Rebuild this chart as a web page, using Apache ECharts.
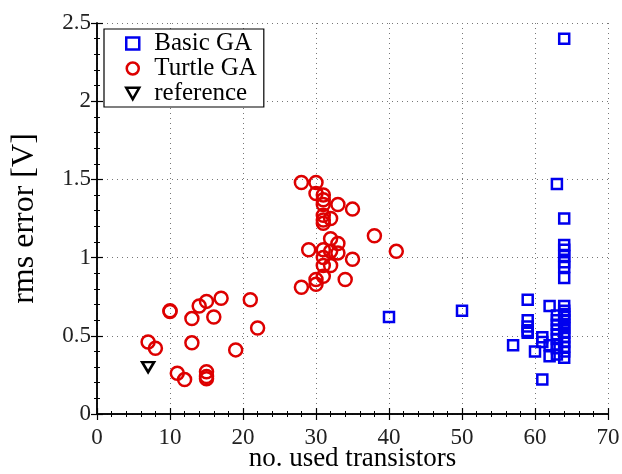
<!DOCTYPE html>
<html>
<head>
<meta charset="utf-8">
<script src="https://cdn.jsdelivr.net/npm/echarts@6/dist/echarts.min.js"></script>
<style>
  html, body { margin: 0; padding: 0; background: #fff; }
  #chart { width: 622px; height: 474px; }
</style>
</head>
<body>
<div id="chart"></div>
<script>
// Basic GA runs: [used transistors, rms error]
const basicGA = [
  [40, 0.62], [50, 0.66], [57, 0.44], [59, 0.73], [59, 0.60], [59, 0.56],
  [59, 0.53], [59, 0.52], [60, 0.40], [61, 0.49], [61, 0.46], [61, 0.22],
  [62, 0.69], [62, 0.37], [62, 0.44], [63, 1.47], [63, 0.63], [63, 0.60],
  [63, 0.57], [63, 0.54], [63, 0.51], [63, 0.48], [63, 0.44], [63, 0.42],
  [63, 0.38], [64, 2.40], [64, 1.25], [64, 1.08], [64, 1.05], [64, 1.01],
  [64, 0.97], [64, 0.94], [64, 0.87], [64, 0.69], [64, 0.66], [64, 0.64],
  [64, 0.62], [64, 0.60], [64, 0.57], [64, 0.55], [64, 0.52], [64, 0.49],
  [64, 0.46], [64, 0.43], [64, 0.40], [64, 0.36]
];
// Turtle GA runs
const turtleGA = [
  [28, 1.48], [30, 1.48], [30, 1.41], [31, 1.40], [31, 1.37], [31, 1.34],
  [33, 1.34], [35, 1.31], [31, 1.27], [32, 1.25], [31, 1.24], [31, 1.22],
  [38, 1.14], [32, 1.12], [33, 1.09], [29, 1.05], [41, 1.04], [31, 1.05],
  [32, 1.04], [33, 1.03], [35, 0.99], [31, 1.00], [31, 0.95], [32, 0.95],
  [31, 0.88], [34, 0.86], [30, 0.86], [30, 0.83], [28, 0.81],
  [17, 0.74], [21, 0.73], [15, 0.72], [14, 0.69], [10, 0.66], [10, 0.655],
  [13, 0.61], [16, 0.62], [22, 0.55], [7, 0.46], [8, 0.42], [13, 0.455],
  [19, 0.41], [11, 0.26], [12, 0.22], [15, 0.27], [15, 0.24], [15, 0.225]
];
// Reference design
const referenceDesign = [[7, 0.30]];

const xTicks = { min: 0, max: 70, interval: 10 };
const yTicks = { min: 0, max: 2.5, interval: 0.5 };

const serifFont = 'Liberation Serif';
const triDown = 'path://M0,0 L12,0 L6,10.4 Z';

const chart = echarts.init(document.getElementById('chart'), null, { renderer: 'canvas' });

function baseAxis(range, extra) {
  return Object.assign({
    type: 'value',
    min: range.min,
    max: range.max,
    interval: range.interval,
    axisLine: { show: true, lineStyle: { color: '#000', width: 1.5 } },
    axisTick: { show: true, inside: true, length: 6, lineStyle: { color: '#000', width: 1.2 } },
    minorTick: { show: true, splitNumber: 5, length: 3, lineStyle: { color: '#000', width: 1 } },
    splitLine: { show: false },
    axisLabel: { show: false }
  }, extra);
}

const labelStyle = { show: true, color: '#222', fontFamily: serifFont, fontSize: 23 };

chart.setOption({
  animation: false,
  grid: { left: 97, right: 14, top: 23, bottom: 60, containLabel: false, outerBoundsMode: 'none' },
  xAxis: [
    baseAxis(xTicks, {
      position: 'bottom',
      name: 'no. used transistors',
      nameLocation: 'middle',
      nameGap: 31,
      nameMoveOverlap: false,
      nameTextStyle: { color: '#000', fontFamily: serifFont, fontSize: 27 },
      axisLabel: Object.assign({ margin: 12 }, labelStyle),
      splitLine: { show: true, lineStyle: { color: '#777', width: 1, type: [1, 4] } }
    }),
    baseAxis(xTicks, { position: 'top' })
  ],
  yAxis: [
    baseAxis(yTicks, {
      position: 'left',
      name: 'rms error [V]',
      nameLocation: 'middle',
      nameGap: 56,
      nameMoveOverlap: false,
      nameTextStyle: { color: '#000', fontFamily: serifFont, fontSize: 32 },
      axisLabel: Object.assign({ margin: 6 }, labelStyle),
      splitLine: { show: true, lineStyle: { color: '#777', width: 1, type: [1, 4] } }
    }),
    baseAxis(yTicks, { position: 'right' })
  ],
  legend: {
    orient: 'vertical',
    left: 104,
    top: 29,
    padding: [2, 7, 1, 21],
    itemGap: 0,
    itemWidth: 13,
    itemHeight: 12,
    backgroundColor: '#fff',
    borderColor: '#000',
    borderWidth: 1.2,
    borderRadius: 0,
    textStyle: { color: '#000', fontFamily: serifFont, fontSize: 25, lineHeight: 24, padding: [0, 0, 0, 10] },
    data: [
      { name: 'Basic GA', icon: 'rect', itemStyle: { color: '#fff', borderColor: '#0000ee', borderWidth: 2.5 } },
      { name: 'Turtle GA', icon: 'circle', itemStyle: { color: '#fff', borderColor: '#dd0000', borderWidth: 2.5 } },
      { name: 'reference', icon: triDown, itemStyle: { color: '#fff', borderColor: '#000', borderWidth: 2.5 } }
    ]
  },
  series: [
    {
      name: 'Basic GA',
      type: 'scatter',
      data: basicGA,
      symbol: 'rect',
      symbolSize: 10,
      itemStyle: { color: 'rgba(255,255,255,0)', borderColor: '#0000ee', borderWidth: 2.5, opacity: 1 },
      z: 3
    },
    {
      name: 'Turtle GA',
      type: 'scatter',
      data: turtleGA,
      symbol: 'circle',
      symbolSize: 13,
      itemStyle: { color: 'rgba(255,255,255,0)', borderColor: '#dd0000', borderWidth: 2.5, opacity: 1 },
      z: 2
    },
    {
      name: 'reference',
      type: 'scatter',
      data: referenceDesign,
      symbol: triDown,
      symbolSize: [12, 10],
      itemStyle: { color: 'rgba(255,255,255,0)', borderColor: '#000', borderWidth: 2.5, opacity: 1 },
      z: 4
    }
  ]
});
</script>
</body>
</html>
